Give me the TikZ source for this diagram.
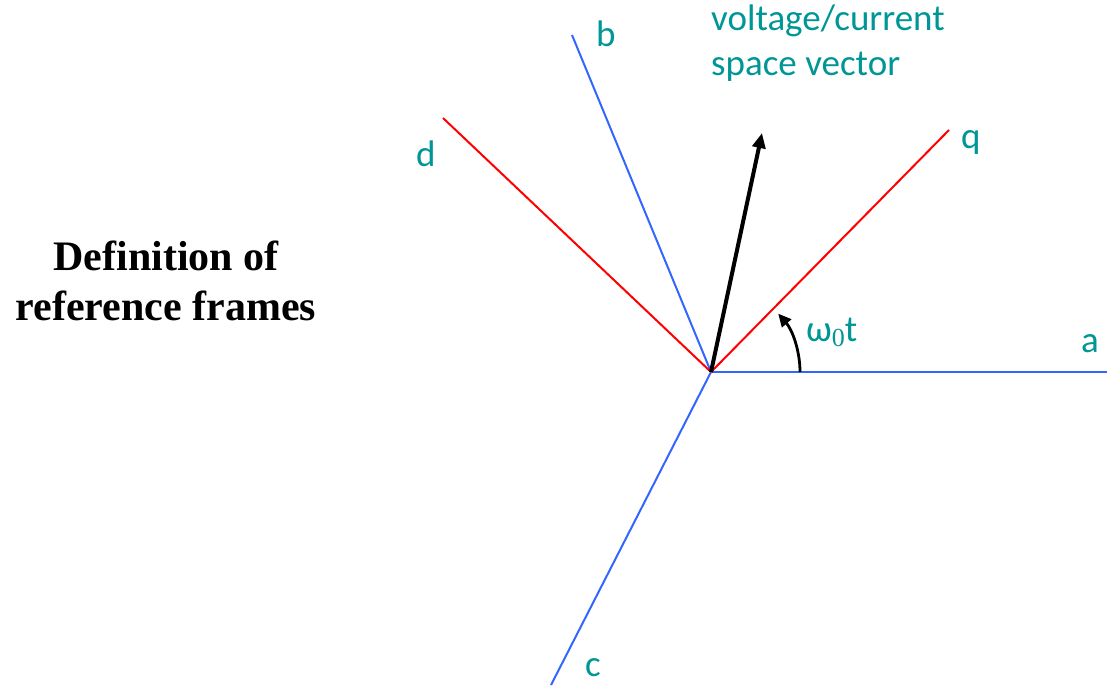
\documentclass[tikz,border=0pt]{standalone}
\usepackage{fontspec}
\setmainfont{Carlito}
\newfontfamily\titlefont{Liberation Serif}
\usetikzlibrary{arrows.meta}
\definecolor{axisblue}{RGB}{51,102,255}
\definecolor{labelteal}{RGB}{0,150,150}
\tikzset{
  bluex/.style={draw=axisblue, line width=2pt},
  redx/.style={draw=red, line width=2pt},
  lbl/.style={text=labelteal, font=\fontsize{37}{44}\selectfont, inner sep=0pt},
}
\begin{document}
\begin{tikzpicture}[x=1pt,y=-1pt]
\useasboundingbox (0,0) rectangle (1107,686);
\coordinate (o) at (711,372);
\coordinate (a) at (1107,372);
\coordinate (b) at (572,35);
\coordinate (c) at (551,685);
\coordinate (d) at (443,118);
\coordinate (q) at (949,130);
\coordinate (v) at (762,133);
\draw[bluex] (o) -- (a);
\draw[bluex] (o) -- (b);
\draw[bluex] (o) -- (c);
\draw[redx] (o) -- (d);
\draw[redx] (o) -- (q);
\draw[line width=4pt, -{Triangle[length=15pt,width=13pt]}] (o) -- (v);
\draw[line width=2.8pt, -{Triangle[length=13pt,width=12pt]}] (800,372) arc[start angle=0, end angle=-41, radius=89];
\node[lbl, anchor=base west] (la) at (1081,352) {a};
\node[lbl, anchor=base west] (lb) at (596,46) {b};
\node[lbl, anchor=base west] (lc) at (585,676) {c};
\node[lbl, anchor=base west] (ld) at (416,166) {d};
\node[lbl, anchor=base west] (lq) at (961,148) {q};
\node[lbl, anchor=base west] (lw) at (806,341) {ω{\titlefont\fontsize{26}{30}\selectfont\raisebox{-5pt}{0}}t};
\node[lbl, anchor=north west, align=left, font=\fontsize{37}{45}\selectfont] (lv) at (711,5) {voltage/current\\space vector};
\node[align=center, font=\titlefont\bfseries\fontsize{42}{50}\selectfont, inner sep=0pt] (title) at (166,281) {Definition of\\reference frames};
\end{tikzpicture}
\end{document}
